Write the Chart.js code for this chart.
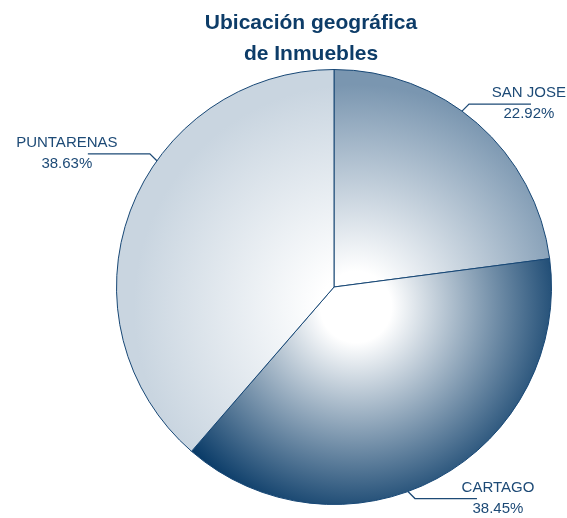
<!DOCTYPE html>
<html>
<head>
<meta charset="utf-8">
<script src="https://cdn.jsdelivr.net/npm/chart.js@4"></script>
<style>
  html, body { margin: 0; padding: 0; background: #ffffff; }
  #chart { display: block; }
</style>
</head>
<body>
<canvas id="chart" width="567" height="518"></canvas>
<script>
const titleLines = ['Ubicación geográfica', 'de Inmuebles'];
const regions = ['SAN JOSE', 'CARTAGO', 'PUNTARENAS'];
const shares = [22.92, 38.45, 38.63];

const colors = {
    title: '#0d3c68',
    text: '#1d4a76',
    border: '#174775',
    slices: ['#7a96b0', '#023563', '#c9d5e0']
};

// where each leader line leaves the pie, in degrees off the slice middle
const labelShift = [-5.2, 8.4, 15.0];

function sliceFill(context) {
    const chart = context.chart;
    const area = chart.chartArea;
    const base = colors.slices[context.dataIndex];
    if (!area) return base;
    const cx = (area.left + area.right) / 2;
    const cy = (area.top + area.bottom) / 2;
    const r = Math.min(area.width, area.height) / 2;
    const g = chart.ctx.createRadialGradient(cx + 22, cy + 20, 0, cx + 22, cy + 20, r * 1.02);
    g.addColorStop(0, '#ffffff');
    g.addColorStop(0.16, '#ffffff');
    g.addColorStop(1, base);
    return g;
}

const titlePlugin = {
    id: 'titleText',
    afterDraw(chart) {
        const ctx = chart.ctx;
        ctx.save();
        ctx.fillStyle = colors.title;
        ctx.font = 'bold 21px "Liberation Sans", Arial, sans-serif';
        ctx.textAlign = 'center';
        ctx.textBaseline = 'middle';
        titleLines.forEach((line, i) => ctx.fillText(line, 311, 23 + i * 31));
        ctx.restore();
    }
};

const labelPlugin = {
    id: 'leaderLabels',
    afterDatasetsDraw(chart) {
        const ctx = chart.ctx;
        const meta = chart.getDatasetMeta(0);
        ctx.save();
        ctx.font = '15px "Liberation Sans", Arial, sans-serif';
        ctx.textAlign = 'center';
        ctx.textBaseline = 'middle';
        meta.data.forEach((arc, i) => {
            const p = arc.getProps(['x', 'y', 'startAngle', 'endAngle', 'outerRadius'], true);
            const a = (p.startAngle + p.endAngle) / 2 + labelShift[i] * Math.PI / 180;
            const ax = p.x + Math.cos(a) * p.outerRadius;
            const ay = p.y + Math.sin(a) * p.outerRadius;
            const dx = Math.cos(a) >= 0 ? 1 : -1;
            const dy = Math.sin(a) >= 0 ? 1 : -1;
            const ex = ax + 7 * dx;
            const ey = ay + 7 * dy;
            const endX = ex + 62 * dx;

            ctx.strokeStyle = colors.text;
            ctx.lineWidth = 1.3;
            ctx.beginPath();
            ctx.moveTo(ax, ay);
            ctx.lineTo(ex, ey);
            ctx.lineTo(endX, ey);
            ctx.stroke();

            const pct = shares[i].toFixed(2) + '%';
            const half = Math.max(ctx.measureText(regions[i]).width, ctx.measureText(pct).width) / 2;
            let tx = endX + 21 * dx;
            tx = Math.min(Math.max(tx, half + 2), chart.width - half - 1);
            ctx.fillStyle = colors.text;
            ctx.fillText(regions[i], tx, ey - 11);
            ctx.fillText(pct, tx, ey + 10);
        });
        ctx.restore();
    }
};

new Chart(document.getElementById('chart'), {
    type: 'pie',
    data: {
        labels: regions,
        datasets: [{
            data: shares,
            backgroundColor: sliceFill,
            borderColor: colors.border,
            borderWidth: 1
        }]
    },
    options: {
        responsive: false,
        animation: false,
        layout: {
            padding: { left: 106, right: 5, top: 69, bottom: 13 }
        },
        plugins: {
            legend: { display: false },
            title: { display: false },
            tooltip: { enabled: false }
        }
    },
    plugins: [titlePlugin, labelPlugin]
});
</script>
</body>
</html>
